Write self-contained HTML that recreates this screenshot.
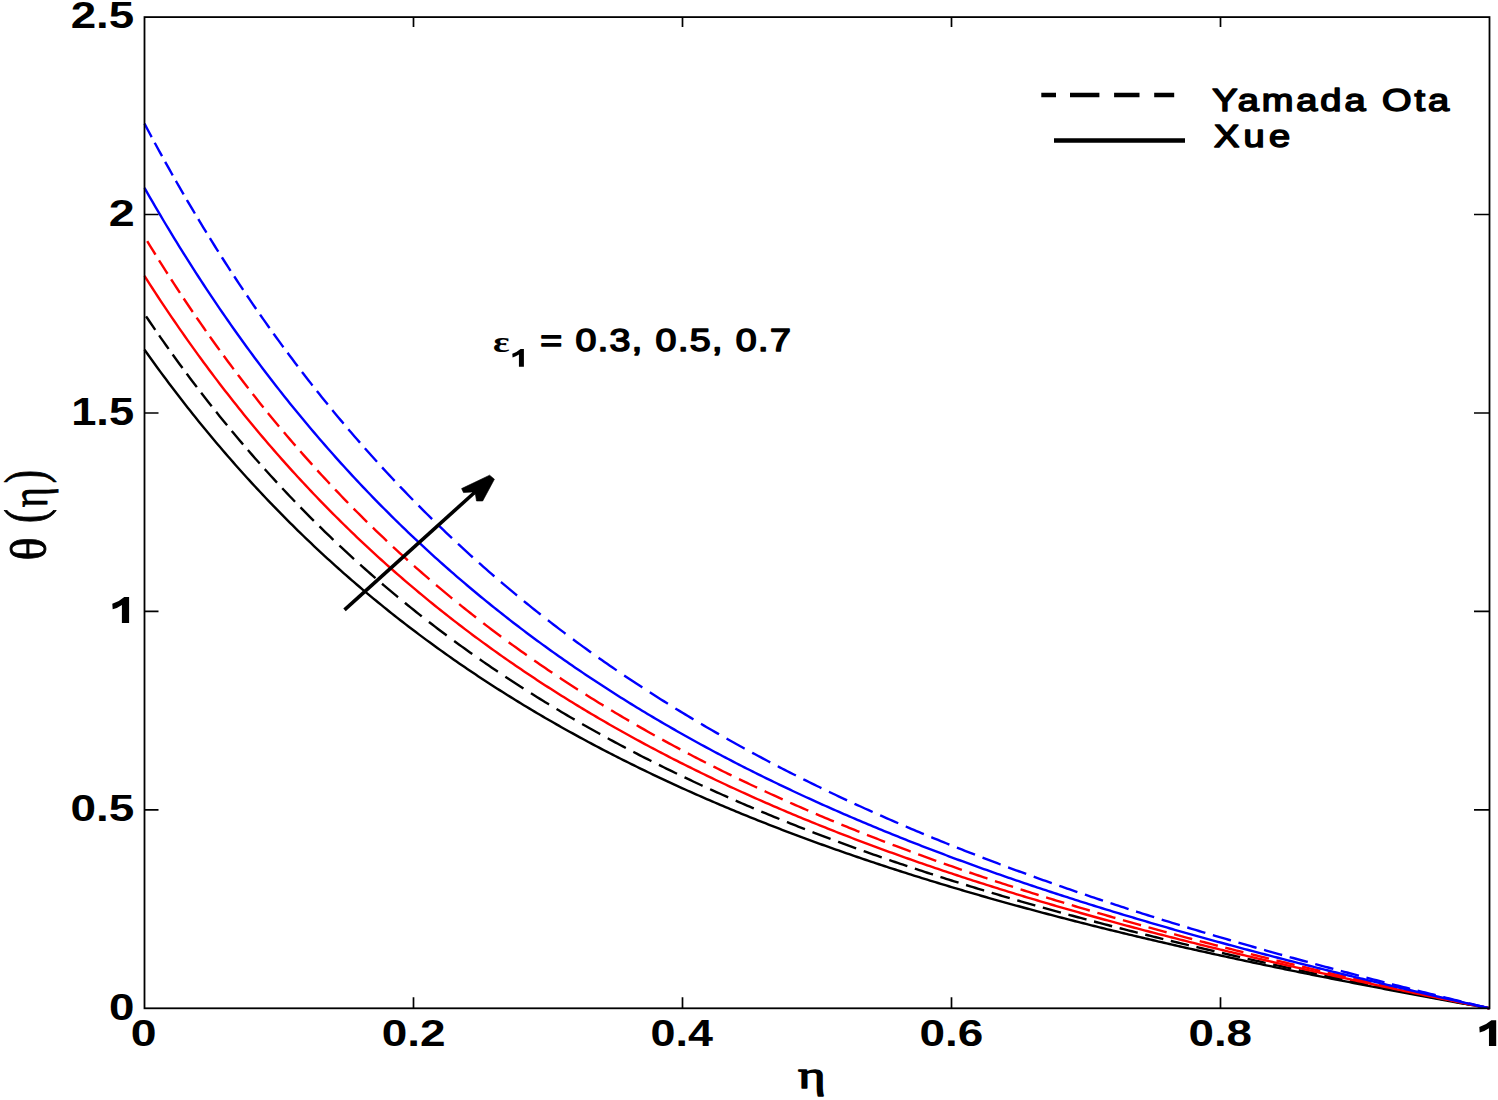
<!DOCTYPE html>
<html><head><meta charset="utf-8"><style>
html,body{margin:0;padding:0;background:#fff;overflow:hidden;}
svg{display:block;}
</style></head><body>
<svg width="1498" height="1100" viewBox="0 0 1498 1100">
<rect width="1498" height="1100" fill="#fff"/>
<g fill="none" stroke-width="2.4" stroke-linejoin="round">
<path d="M144.5,349.74 147.19,353.53 149.88,357.29 152.57,361.03 155.26,364.74 157.95,368.43 160.64,372.09 163.33,375.73 166.02,379.34 168.71,382.93 171.4,386.5 174.09,390.04 176.78,393.56 179.47,397.06 182.16,400.53 184.85,403.98 187.54,407.41 190.23,410.81 192.92,414.2 195.61,417.56 198.3,420.89 200.99,424.21 203.68,427.51 206.37,430.78 209.06,434.03 211.75,437.27 214.44,440.48 217.13,443.67 219.82,446.84 222.51,449.98 225.2,453.11 227.89,456.22 230.58,459.31 233.27,462.38 235.96,465.43 238.65,468.46 241.34,471.47 244.03,474.46 246.72,477.44 249.41,480.39 252.1,483.33 254.79,486.24 257.48,489.14 260.17,492.02 262.86,494.89 265.55,497.73 268.24,500.56 270.93,503.37 273.62,506.16 276.31,508.93 279,511.69 281.69,514.43 284.38,517.15 287.07,519.86 289.76,522.55 292.45,525.22 295.14,527.88 297.83,530.52 300.52,533.14 303.21,535.75 305.9,538.34 308.59,540.92 311.28,543.48 313.97,546.02 316.66,548.55 319.35,551.07 322.04,553.57 324.73,556.05 327.42,558.52 330.11,560.98 332.8,563.41 335.49,565.84 338.18,568.25 340.87,570.65 343.56,573.03 346.25,575.4 348.94,577.75 351.63,580.09 354.32,582.42 357.01,584.73 359.7,587.03 362.39,589.31 365.08,591.58 367.77,593.84 370.46,596.09 373.15,598.32 375.84,600.54 378.53,602.75 381.22,604.94 383.91,607.12 386.6,609.29 389.29,611.44 391.98,613.59 394.67,615.72 397.36,617.84 400.05,619.94 402.74,622.04 405.43,624.12 408.12,626.19 410.81,628.25 413.5,630.3 416.19,632.33 418.88,634.36 421.57,636.37 424.26,638.37 426.95,640.36 429.64,642.34 432.33,644.3 435.02,646.26 437.71,648.21 440.4,650.14 443.09,652.07 445.78,653.98 448.47,655.88 451.16,657.77 453.85,659.66 456.54,661.53 459.23,663.39 461.92,665.24 464.61,667.08 467.3,668.91 469.99,670.73 472.68,672.54 475.37,674.34 478.06,676.13 480.75,677.91 483.44,679.69 486.13,681.45 488.82,683.2 491.51,684.94 494.2,686.68 496.89,688.4 499.58,690.12 502.27,691.82 504.96,693.52 507.65,695.21 510.34,696.89 513.03,698.56 515.72,700.22 518.41,701.87 521.1,703.51 523.79,705.15 526.48,706.78 529.17,708.39 531.86,710 534.55,711.6 537.24,713.2 539.93,714.78 542.62,716.36 545.31,717.93 548,719.49 550.69,721.04 553.38,722.58 556.07,724.12 558.76,725.65 561.45,727.17 564.14,728.68 566.83,730.18 569.52,731.68 572.21,733.17 574.9,734.65 577.59,736.13 580.28,737.59 582.97,739.05 585.66,740.51 588.35,741.95 591.04,743.39 593.73,744.82 596.42,746.24 599.11,747.66 601.8,749.07 604.49,750.47 607.18,751.87 609.87,753.25 612.56,754.64 615.25,756.01 617.94,757.38 620.63,758.74 623.32,760.1 626.01,761.44 628.7,762.79 631.39,764.12 634.08,765.45 636.77,766.77 639.46,768.09 642.15,769.4 644.84,770.7 647.53,772 650.22,773.29 652.91,774.57 655.6,775.85 658.29,777.13 660.98,778.39 663.67,779.65 666.36,780.91 669.05,782.16 671.74,783.4 674.43,784.64 677.12,785.87 679.81,787.09 682.5,788.31 685.19,789.53 687.88,790.73 690.57,791.94 693.26,793.13 695.95,794.33 698.64,795.51 701.33,796.69 704.02,797.87 706.71,799.04 709.4,800.2 712.09,801.36 714.78,802.52 717.47,803.66 720.16,804.81 722.85,805.95 725.54,807.08 728.23,808.21 730.92,809.33 733.61,810.45 736.3,811.56 738.99,812.67 741.68,813.78 744.37,814.87 747.06,815.97 749.75,817.06 752.44,818.14 755.13,819.22 757.82,820.29 760.51,821.36 763.2,822.43 765.89,823.49 768.58,824.55 771.27,825.6 773.96,826.64 776.65,827.69 779.34,828.72 782.03,829.76 784.72,830.79 787.41,831.81 790.1,832.83 792.79,833.85 795.48,834.86 798.17,835.87 800.86,836.87 803.55,837.87 806.24,838.86 808.93,839.85 811.62,840.84 814.31,841.82 817,842.8 819.69,843.78 822.38,844.75 825.07,845.71 827.76,846.67 830.45,847.63 833.14,848.59 835.83,849.54 838.52,850.48 841.21,851.43 843.9,852.37 846.59,853.3 849.28,854.23 851.97,855.16 854.66,856.08 857.35,857 860.04,857.92 862.73,858.83 865.42,859.74 868.11,860.65 870.8,861.55 873.49,862.45 876.18,863.34 878.87,864.24 881.56,865.12 884.25,866.01 886.94,866.89 889.63,867.77 892.32,868.64 895.01,869.51 897.7,870.38 900.39,871.24 903.08,872.1 905.77,872.96 908.46,873.82 911.15,874.67 913.84,875.52 916.53,876.36 919.22,877.2 921.91,878.04 924.6,878.88 927.29,879.71 929.98,880.54 932.67,881.36 935.36,882.19 938.05,883.01 940.74,883.82 943.43,884.64 946.12,885.45 948.81,886.26 951.5,887.06 954.19,887.86 956.88,888.66 959.57,889.46 962.26,890.25 964.95,891.04 967.64,891.83 970.33,892.61 973.02,893.4 975.71,894.18 978.4,894.95 981.09,895.73 983.78,896.5 986.47,897.27 989.16,898.03 991.85,898.79 994.54,899.55 997.23,900.31 999.92,901.07 1002.61,901.82 1005.3,902.57 1007.99,903.32 1010.68,904.06 1013.37,904.81 1016.06,905.54 1018.75,906.28 1021.44,907.02 1024.13,907.75 1026.82,908.48 1029.51,909.21 1032.2,909.93 1034.89,910.65 1037.58,911.37 1040.27,912.09 1042.96,912.81 1045.65,913.52 1048.34,914.23 1051.03,914.94 1053.72,915.65 1056.41,916.35 1059.1,917.05 1061.79,917.75 1064.48,918.45 1067.17,919.14 1069.86,919.84 1072.55,920.53 1075.24,921.22 1077.93,921.9 1080.62,922.59 1083.31,923.27 1086,923.95 1088.69,924.63 1091.38,925.3 1094.07,925.97 1096.76,926.65 1099.45,927.31 1102.14,927.98 1104.83,928.65 1107.52,929.31 1110.21,929.97 1112.9,930.63 1115.59,931.29 1118.28,931.94 1120.97,932.6 1123.66,933.25 1126.35,933.9 1129.04,934.55 1131.73,935.19 1134.42,935.83 1137.11,936.48 1139.8,937.12 1142.49,937.75 1145.18,938.39 1147.87,939.03 1150.56,939.66 1153.25,940.29 1155.94,940.92 1158.63,941.55 1161.32,942.17 1164.01,942.79 1166.7,943.42 1169.39,944.04 1172.08,944.66 1174.77,945.27 1177.46,945.89 1180.15,946.5 1182.84,947.11 1185.53,947.72 1188.22,948.33 1190.91,948.94 1193.6,949.54 1196.29,950.15 1198.98,950.75 1201.67,951.35 1204.36,951.95 1207.05,952.54 1209.74,953.14 1212.43,953.73 1215.12,954.33 1217.81,954.92 1220.5,955.51 1223.19,956.1 1225.88,956.68 1228.57,957.27 1231.26,957.85 1233.95,958.43 1236.64,959.01 1239.33,959.59 1242.02,960.17 1244.71,960.74 1247.4,961.32 1250.09,961.89 1252.78,962.46 1255.47,963.03 1258.16,963.6 1260.85,964.17 1263.54,964.74 1266.23,965.3 1268.92,965.87 1271.61,966.43 1274.3,966.99 1276.99,967.55 1279.68,968.11 1282.37,968.66 1285.06,969.22 1287.75,969.77 1290.44,970.33 1293.13,970.88 1295.82,971.43 1298.51,971.98 1301.2,972.53 1303.89,973.07 1306.58,973.62 1309.27,974.16 1311.96,974.71 1314.65,975.25 1317.34,975.79 1320.03,976.33 1322.72,976.87 1325.41,977.41 1328.1,977.94 1330.79,978.48 1333.48,979.01 1336.17,979.54 1338.86,980.08 1341.55,980.61 1344.24,981.14 1346.93,981.66 1349.62,982.19 1352.31,982.72 1355,983.24 1357.69,983.77 1360.38,984.29 1363.07,984.81 1365.76,985.33 1368.45,985.85 1371.14,986.37 1373.83,986.89 1376.52,987.41 1379.21,987.92 1381.9,988.44 1384.59,988.95 1387.28,989.46 1389.97,989.97 1392.66,990.49 1395.35,991 1398.04,991.5 1400.73,992.01 1403.42,992.52 1406.11,993.03 1408.8,993.53 1411.49,994.04 1414.18,994.54 1416.87,995.04 1419.56,995.54 1422.25,996.04 1424.94,996.54 1427.63,997.04 1430.32,997.54 1433.01,998.04 1435.7,998.54 1438.39,999.03 1441.08,999.53 1443.77,1000.02 1446.46,1000.51 1449.15,1001.01 1451.84,1001.5 1454.53,1001.99 1457.22,1002.48 1459.91,1002.97 1462.6,1003.46 1465.29,1003.94 1467.98,1004.43 1470.67,1004.92 1473.36,1005.4 1476.05,1005.89 1478.74,1006.37 1481.43,1006.85 1484.12,1007.34 1486.81,1007.82 1489.5,1008.3" stroke="#000"/>
<path d="M146.05,316.33 147.19,318.03 149.88,321.99 152.57,325.93 155.25,329.83M159.13,335.43 160.64,337.6 163.33,341.43 166.02,345.24 168.64,348.93M172.66,354.53 174.09,356.52 176.78,360.23 179.47,363.92 182.16,367.58 182.5,368.03M186.65,373.63 187.54,374.83 190.23,378.42 192.92,381.98 195.61,385.53 196.84,387.13M201.14,392.73 203.68,396.02 206.37,399.47 209.06,402.9 211.69,406.23M216.15,411.83 217.13,413.05 219.82,416.39 222.51,419.71 225.2,423.01 227.1,425.33M231.73,430.93 233.27,432.78 235.96,436 238.65,439.19 241.34,442.37 243.1,444.43M247.91,450.03 249.41,451.77 252.1,454.86 254.79,457.94 257.48,461 259.73,463.53M264.73,469.13 265.55,470.05 268.24,473.03 270.93,475.99 273.62,478.93 276.31,481.86 277.03,482.63M282.23,488.23 284.38,490.52 287.07,493.38 289.76,496.21 292.45,499.03 295.05,501.73M300.47,507.33 300.52,507.38 303.21,510.13 305.9,512.86 308.59,515.58 311.28,518.28 313.84,520.83M319.51,526.43 322.04,528.91 324.73,531.53 327.42,534.14 330.11,536.72 332.8,539.29 333.47,539.93M339.39,545.53 340.87,546.92 343.56,549.43 346.25,551.93 348.94,554.41 351.63,556.87 354,559.03M360.2,564.63 362.39,566.6 365.08,568.99 367.77,571.37 370.46,573.74 373.15,576.09 375.49,578.13M381.99,583.73 383.91,585.37 386.6,587.65 389.29,589.93 391.98,592.19 394.67,594.43 397.36,596.67 398.04,597.23M404.87,602.83 405.43,603.29 408.12,605.47 410.81,607.64 413.5,609.8 416.19,611.95 418.88,614.08 421.57,616.2 421.73,616.33M428.91,621.93 429.64,622.5 432.33,624.57 435.02,626.63 437.71,628.68 440.4,630.72 443.09,632.75 445.78,634.77 446.67,635.43M454.17,640.99 456.54,642.73 459.23,644.69 461.92,646.64 464.61,648.58 467.3,650.51 469.99,652.43 472.26,654.04M479.77,659.31 480.75,660 483.44,661.87 486.13,663.73 488.82,665.57 491.51,667.41 494.2,669.24 496.89,671.06 497.86,671.71M505.36,676.72 507.65,678.23 510.34,680 513.03,681.76 515.72,683.51 518.41,685.26 521.1,686.99 523.45,688.5M530.95,693.26 531.86,693.83 534.55,695.52 537.24,697.2 539.93,698.87 542.62,700.53 545.31,702.18 548,703.83 549.04,704.46M556.55,709 558.76,710.32 561.45,711.92 564.14,713.52 566.83,715.1 569.52,716.68 572.21,718.25 574.64,719.66M582.14,723.98 582.97,724.46 585.66,725.99 588.35,727.51 591.04,729.03 593.73,730.53 596.42,732.03 599.11,733.53 600.23,734.15M607.74,738.27 609.87,739.43 612.56,740.88 615.25,742.33 617.94,743.78 620.63,745.21 623.32,746.64 625.83,747.96M633.33,751.89 634.08,752.28 636.77,753.68 639.46,755.07 642.15,756.45 644.84,757.82 647.53,759.19 650.22,760.55 651.42,761.15M658.92,764.91 660.98,765.93 663.67,767.26 666.36,768.58 669.05,769.89 671.74,771.2 674.43,772.51 677.01,773.76M684.52,777.34 685.19,777.66 687.88,778.94 690.57,780.21 693.26,781.47 695.95,782.72 698.64,783.97 701.33,785.22 702.61,785.81M710.11,789.24 712.09,790.14 714.78,791.36 717.47,792.57 720.16,793.78 722.85,794.98 725.54,796.17 728.2,797.35M735.71,800.64 736.3,800.9 738.99,802.07 741.68,803.23 744.37,804.39 747.06,805.54 749.75,806.69 752.44,807.83 753.8,808.4M761.3,811.56 763.2,812.35 765.89,813.47 768.58,814.58 771.27,815.69 773.96,816.8 776.65,817.89 779.34,818.99 779.39,819.01M786.89,822.04 787.41,822.24 790.1,823.32 792.79,824.39 795.48,825.46 798.17,826.52 800.86,827.58 803.55,828.63 804.98,829.19M812.49,832.1 814.31,832.8 817,833.83 819.69,834.86 822.38,835.88 825.07,836.9 827.76,837.91 830.45,838.92 830.58,838.97M838.08,841.77 838.52,841.93 841.21,842.92 843.9,843.91 846.59,844.9 849.28,845.88 851.97,846.86 854.66,847.83 856.17,848.38M863.68,851.07 865.42,851.69 868.11,852.64 870.8,853.59 873.49,854.54 876.18,855.48 878.87,856.42 881.56,857.36 881.77,857.43M889.27,860.02 889.63,860.15 892.32,861.07 895.01,861.99 897.7,862.9 900.39,863.81 903.08,864.72 905.77,865.62 907.36,866.16M914.86,868.66 916.53,869.21 919.22,870.09 921.91,870.98 924.6,871.86 927.29,872.74 929.98,873.61 932.67,874.48 932.95,874.57M940.46,876.98 940.74,877.07 943.43,877.93 946.12,878.79 948.81,879.64 951.5,880.49 954.19,881.33 956.88,882.17 958.55,882.7M966.05,885.02 967.64,885.51 970.33,886.34 973.02,887.17 975.71,887.99 978.4,888.81 981.09,889.62 983.78,890.44 984.14,890.54M991.65,892.8 991.85,892.86 994.54,893.66 997.23,894.46 999.92,895.25 1002.61,896.05 1005.3,896.84 1007.99,897.63 1009.74,898.14M1017.24,900.31 1018.75,900.75 1021.44,901.53 1024.13,902.3 1026.82,903.07 1029.51,903.83 1032.2,904.6 1034.89,905.36 1035.33,905.48M1042.83,907.6 1042.96,907.63 1045.65,908.38 1048.34,909.13 1051.03,909.88 1053.72,910.62 1056.41,911.37 1059.1,912.11 1060.92,912.61M1068.43,914.65 1069.86,915.04 1072.55,915.77 1075.24,916.49 1077.93,917.22 1080.62,917.94 1083.31,918.66 1086,919.37 1086.52,919.51M1094.02,921.5 1094.07,921.51 1096.76,922.22 1099.45,922.92 1102.14,923.63 1104.83,924.33 1107.52,925.03 1110.21,925.73 1112.11,926.22M1119.62,928.15 1120.97,928.49 1123.66,929.18 1126.35,929.86 1129.04,930.55 1131.73,931.23 1134.42,931.91 1137.11,932.58 1137.71,932.73M1145.21,934.61 1147.87,935.27 1150.56,935.94 1153.25,936.6 1155.94,937.27 1158.63,937.93 1161.32,938.59 1163.3,939.07M1170.8,940.9 1172.08,941.21 1174.77,941.86 1177.46,942.5 1180.15,943.15 1182.84,943.8 1185.53,944.44 1188.22,945.08 1188.89,945.24M1196.4,947.02 1198.98,947.63 1201.67,948.26 1204.36,948.89 1207.05,949.52 1209.74,950.15 1212.43,950.78 1214.49,951.25M1221.99,952.99 1223.19,953.26 1225.88,953.88 1228.57,954.5 1231.26,955.11 1233.95,955.73 1236.64,956.34 1239.33,956.95 1240.08,957.12M1247.59,958.81 1250.09,959.38 1252.78,959.98 1255.47,960.58 1258.16,961.18 1260.85,961.78 1263.54,962.38 1265.68,962.85M1273.18,964.5 1274.3,964.75 1276.99,965.34 1279.68,965.93 1282.37,966.52 1285.06,967.1 1287.75,967.69 1290.44,968.27 1291.27,968.45M1298.77,970.07 1301.2,970.59 1303.89,971.16 1306.58,971.74 1309.27,972.31 1311.96,972.89 1314.65,973.46 1316.86,973.93M1324.37,975.51 1325.41,975.73 1328.1,976.3 1330.79,976.86 1333.48,977.42 1336.17,977.99 1338.86,978.55 1341.55,979.1 1342.46,979.29M1349.96,980.85 1352.31,981.33 1355,981.88 1357.69,982.44 1360.38,982.99 1363.07,983.54 1365.76,984.09 1368.05,984.55M1375.56,986.08 1376.52,986.27 1379.21,986.82 1381.9,987.36 1384.59,987.9 1387.28,988.44 1389.97,988.98 1392.66,989.52 1393.65,989.72M1401.15,991.21 1403.42,991.66 1406.11,992.2 1408.8,992.73 1411.49,993.26 1414.18,993.79 1416.87,994.32 1419.24,994.79M1426.74,996.26 1427.63,996.43 1430.32,996.96 1433.01,997.48 1435.7,998.01 1438.39,998.53 1441.08,999.05 1443.77,999.57 1444.83,999.78M1452.34,1001.22 1454.53,1001.65 1457.22,1002.16 1459.91,1002.68 1462.6,1003.19 1465.29,1003.71 1467.98,1004.22 1470.43,1004.69M1477.93,1006.11 1478.74,1006.27 1481.43,1006.78 1484.12,1007.28 1486.81,1007.79 1489.5,1008.3" stroke="#000"/>
<path d="M144.5,275.95 147.19,280.16 149.88,284.34 152.57,288.5 155.26,292.63 157.95,296.73 160.64,300.8 163.33,304.85 166.02,308.87 168.71,312.86 171.4,316.83 174.09,320.77 176.78,324.68 179.47,328.57 182.16,332.43 184.85,336.27 187.54,340.08 190.23,343.86 192.92,347.63 195.61,351.36 198.3,355.08 200.99,358.77 203.68,362.43 206.37,366.07 209.06,369.69 211.75,373.28 214.44,376.85 217.13,380.4 219.82,383.92 222.51,387.43 225.2,390.91 227.89,394.36 230.58,397.8 233.27,401.21 235.96,404.6 238.65,407.97 241.34,411.32 244.03,414.65 246.72,417.95 249.41,421.24 252.1,424.5 254.79,427.75 257.48,430.97 260.17,434.18 262.86,437.36 265.55,440.52 268.24,443.66 270.93,446.79 273.62,449.89 276.31,452.98 279,456.04 281.69,459.09 284.38,462.12 287.07,465.13 289.76,468.12 292.45,471.09 295.14,474.05 297.83,476.98 300.52,479.9 303.21,482.8 305.9,485.68 308.59,488.55 311.28,491.4 313.97,494.23 316.66,497.04 319.35,499.84 322.04,502.62 324.73,505.38 327.42,508.12 330.11,510.85 332.8,513.57 335.49,516.26 338.18,518.94 340.87,521.61 343.56,524.26 346.25,526.89 348.94,529.51 351.63,532.11 354.32,534.7 357.01,537.27 359.7,539.82 362.39,542.37 365.08,544.89 367.77,547.4 370.46,549.9 373.15,552.38 375.84,554.85 378.53,557.3 381.22,559.74 383.91,562.17 386.6,564.58 389.29,566.98 391.98,569.36 394.67,571.73 397.36,574.09 400.05,576.43 402.74,578.76 405.43,581.07 408.12,583.38 410.81,585.66 413.5,587.94 416.19,590.2 418.88,592.46 421.57,594.69 424.26,596.92 426.95,599.13 429.64,601.33 432.33,603.52 435.02,605.7 437.71,607.86 440.4,610.01 443.09,612.15 445.78,614.28 448.47,616.39 451.16,618.5 453.85,620.59 456.54,622.67 459.23,624.74 461.92,626.8 464.61,628.85 467.3,630.88 469.99,632.91 472.68,634.92 475.37,636.92 478.06,638.91 480.75,640.89 483.44,642.86 486.13,644.82 488.82,646.77 491.51,648.71 494.2,650.64 496.89,652.56 499.58,654.46 502.27,656.36 504.96,658.25 507.65,660.13 510.34,661.99 513.03,663.85 515.72,665.7 518.41,667.53 521.1,669.36 523.79,671.18 526.48,672.99 529.17,674.79 531.86,676.58 534.55,678.36 537.24,680.13 539.93,681.89 542.62,683.65 545.31,685.39 548,687.12 550.69,688.85 553.38,690.57 556.07,692.27 558.76,693.97 561.45,695.66 564.14,697.35 566.83,699.02 569.52,700.69 572.21,702.34 574.9,703.99 577.59,705.63 580.28,707.26 582.97,708.88 585.66,710.5 588.35,712.11 591.04,713.71 593.73,715.3 596.42,716.88 599.11,718.45 601.8,720.02 604.49,721.58 607.18,723.13 609.87,724.68 612.56,726.21 615.25,727.74 617.94,729.26 620.63,730.78 623.32,732.29 626.01,733.78 628.7,735.28 631.39,736.76 634.08,738.24 636.77,739.71 639.46,741.17 642.15,742.63 644.84,744.08 647.53,745.52 650.22,746.96 652.91,748.39 655.6,749.81 658.29,751.22 660.98,752.63 663.67,754.03 666.36,755.43 669.05,756.82 671.74,758.2 674.43,759.57 677.12,760.94 679.81,762.31 682.5,763.66 685.19,765.01 687.88,766.36 690.57,767.69 693.26,769.02 695.95,770.35 698.64,771.67 701.33,772.98 704.02,774.29 706.71,775.59 709.4,776.89 712.09,778.17 714.78,779.46 717.47,780.74 720.16,782.01 722.85,783.27 725.54,784.53 728.23,785.79 730.92,787.04 733.61,788.28 736.3,789.52 738.99,790.75 741.68,791.98 744.37,793.2 747.06,794.42 749.75,795.63 752.44,796.83 755.13,798.03 757.82,799.23 760.51,800.42 763.2,801.6 765.89,802.78 768.58,803.96 771.27,805.13 773.96,806.29 776.65,807.45 779.34,808.6 782.03,809.75 784.72,810.9 787.41,812.04 790.1,813.17 792.79,814.3 795.48,815.43 798.17,816.55 800.86,817.66 803.55,818.77 806.24,819.88 808.93,820.98 811.62,822.08 814.31,823.17 817,824.26 819.69,825.34 822.38,826.42 825.07,827.49 827.76,828.56 830.45,829.63 833.14,830.69 835.83,831.75 838.52,832.8 841.21,833.85 843.9,834.89 846.59,835.93 849.28,836.97 851.97,838 854.66,839.03 857.35,840.05 860.04,841.07 862.73,842.09 865.42,843.1 868.11,844.1 870.8,845.11 873.49,846.11 876.18,847.1 878.87,848.09 881.56,849.08 884.25,850.06 886.94,851.04 889.63,852.02 892.32,852.99 895.01,853.96 897.7,854.93 900.39,855.89 903.08,856.84 905.77,857.8 908.46,858.75 911.15,859.69 913.84,860.64 916.53,861.58 919.22,862.51 921.91,863.45 924.6,864.37 927.29,865.3 929.98,866.22 932.67,867.14 935.36,868.05 938.05,868.97 940.74,869.87 943.43,870.78 946.12,871.68 948.81,872.58 951.5,873.48 954.19,874.37 956.88,875.26 959.57,876.14 962.26,877.02 964.95,877.9 967.64,878.78 970.33,879.65 973.02,880.52 975.71,881.39 978.4,882.25 981.09,883.11 983.78,883.97 986.47,884.82 989.16,885.68 991.85,886.52 994.54,887.37 997.23,888.21 999.92,889.05 1002.61,889.89 1005.3,890.72 1007.99,891.55 1010.68,892.38 1013.37,893.21 1016.06,894.03 1018.75,894.85 1021.44,895.67 1024.13,896.48 1026.82,897.29 1029.51,898.1 1032.2,898.91 1034.89,899.71 1037.58,900.51 1040.27,901.31 1042.96,902.11 1045.65,902.9 1048.34,903.69 1051.03,904.48 1053.72,905.27 1056.41,906.05 1059.1,906.83 1061.79,907.61 1064.48,908.38 1067.17,909.15 1069.86,909.92 1072.55,910.69 1075.24,911.46 1077.93,912.22 1080.62,912.98 1083.31,913.74 1086,914.5 1088.69,915.25 1091.38,916 1094.07,916.75 1096.76,917.5 1099.45,918.24 1102.14,918.98 1104.83,919.72 1107.52,920.46 1110.21,921.2 1112.9,921.93 1115.59,922.66 1118.28,923.39 1120.97,924.11 1123.66,924.84 1126.35,925.56 1129.04,926.28 1131.73,927 1134.42,927.72 1137.11,928.43 1139.8,929.14 1142.49,929.85 1145.18,930.56 1147.87,931.26 1150.56,931.97 1153.25,932.67 1155.94,933.37 1158.63,934.07 1161.32,934.76 1164.01,935.46 1166.7,936.15 1169.39,936.84 1172.08,937.52 1174.77,938.21 1177.46,938.89 1180.15,939.58 1182.84,940.26 1185.53,940.94 1188.22,941.61 1190.91,942.29 1193.6,942.96 1196.29,943.63 1198.98,944.3 1201.67,944.97 1204.36,945.63 1207.05,946.3 1209.74,946.96 1212.43,947.62 1215.12,948.28 1217.81,948.94 1220.5,949.59 1223.19,950.25 1225.88,950.9 1228.57,951.55 1231.26,952.2 1233.95,952.84 1236.64,953.49 1239.33,954.13 1242.02,954.78 1244.71,955.42 1247.4,956.06 1250.09,956.69 1252.78,957.33 1255.47,957.96 1258.16,958.6 1260.85,959.23 1263.54,959.86 1266.23,960.49 1268.92,961.11 1271.61,961.74 1274.3,962.36 1276.99,962.98 1279.68,963.6 1282.37,964.22 1285.06,964.84 1287.75,965.46 1290.44,966.07 1293.13,966.69 1295.82,967.3 1298.51,967.91 1301.2,968.52 1303.89,969.13 1306.58,969.73 1309.27,970.34 1311.96,970.94 1314.65,971.55 1317.34,972.15 1320.03,972.75 1322.72,973.35 1325.41,973.94 1328.1,974.54 1330.79,975.14 1333.48,975.73 1336.17,976.32 1338.86,976.91 1341.55,977.5 1344.24,978.09 1346.93,978.68 1349.62,979.27 1352.31,979.85 1355,980.43 1357.69,981.02 1360.38,981.6 1363.07,982.18 1365.76,982.76 1368.45,983.34 1371.14,983.91 1373.83,984.49 1376.52,985.06 1379.21,985.64 1381.9,986.21 1384.59,986.78 1387.28,987.35 1389.97,987.92 1392.66,988.49 1395.35,989.06 1398.04,989.62 1400.73,990.19 1403.42,990.75 1406.11,991.31 1408.8,991.88 1411.49,992.44 1414.18,993 1416.87,993.56 1419.56,994.11 1422.25,994.67 1424.94,995.23 1427.63,995.78 1430.32,996.34 1433.01,996.89 1435.7,997.44 1438.39,997.99 1441.08,998.54 1443.77,999.09 1446.46,999.64 1449.15,1000.19 1451.84,1000.74 1454.53,1001.28 1457.22,1001.83 1459.91,1002.37 1462.6,1002.91 1465.29,1003.46 1467.98,1004 1470.67,1004.54 1473.36,1005.08 1476.05,1005.62 1478.74,1006.16 1481.43,1006.69 1484.12,1007.23 1486.81,1007.76 1489.5,1008.3" stroke="#f00"/>
<path d="M147.23,241.17 149.88,245.52 152.57,249.9 155.26,254.25 155.52,254.67M159.02,260.27 160.64,262.86 163.33,267.12 166.02,271.36 167.56,273.77M171.16,279.37 171.4,279.74 174.09,283.89 176.78,288.02 179.47,292.11 179.97,292.87M183.68,298.47 184.85,300.23 187.54,304.24 190.23,308.23 192.77,311.97M196.6,317.57 198.3,320.04 200.99,323.93 203.68,327.79 205.98,331.07M209.93,336.67 211.75,339.23 214.44,342.99 217.13,346.73 219.62,350.17M223.71,355.77 225.2,357.8 227.89,361.44 230.58,365.06 233.27,368.65 233.73,369.27M237.96,374.87 238.65,375.78 241.34,379.31 244.03,382.81 246.72,386.29 248.33,388.37M252.71,393.97 254.79,396.61 257.48,400.01 260.17,403.38 262.86,406.74 263.45,407.47M267.99,413.07 268.24,413.38 270.93,416.68 273.62,419.95 276.31,423.2 279,426.43 279.12,426.57M283.83,432.17 284.38,432.83 287.07,436 289.76,439.15 292.45,442.28 295.14,445.39 295.38,445.67M300.26,451.27 300.52,451.56 303.21,454.62 305.9,457.66 308.59,460.67 311.28,463.67 312.27,464.77M317.34,470.37 319.35,472.57 322.04,475.5 324.73,478.41 327.42,481.3 329.82,483.87M335.11,489.47 335.49,489.88 338.18,492.7 340.87,495.51 343.56,498.3 346.25,501.07 348.1,502.97M353.6,508.57 354.32,509.3 357.01,512.01 359.7,514.7 362.39,517.38 365.08,520.04 367.14,522.07M372.88,527.67 373.15,527.93 375.84,530.53 378.53,533.12 381.22,535.69 383.91,538.24 386.6,540.78 387.01,541.17M393,546.77 394.67,548.32 397.36,550.8 400.05,553.27 402.74,555.72 405.43,558.16 407.77,560.27M414.03,565.87 416.19,567.78 418.88,570.15 421.57,572.51 424.26,574.86 426.95,577.19 429.48,579.37M436.04,584.97 437.71,586.38 440.4,588.65 443.09,590.9 445.78,593.15 448.47,595.38 451.16,597.59 452.23,598.47M459.11,604.07 459.23,604.17 461.92,606.34 464.61,608.5 467.3,610.64 469.99,612.77 472.68,614.9 475.37,617.01 476.09,617.57M483.32,623.17 483.44,623.27 486.13,625.33 488.82,627.38 491.51,629.43 494.2,631.46 496.89,633.48 499.58,635.49 501.16,636.67M508.67,642.2 510.34,643.42 513.03,645.38 515.72,647.32 518.41,649.26 521.1,651.19 523.79,653.1 526.48,655.01 526.76,655.2M534.26,660.46 534.55,660.66 537.24,662.53 539.93,664.39 542.62,666.23 545.31,668.07 548,669.9 550.69,671.72 552.35,672.84M559.86,677.84 561.45,678.9 564.14,680.67 566.83,682.43 569.52,684.19 572.21,685.93 574.9,687.67 577.59,689.4 577.95,689.63M585.45,694.4 585.66,694.53 588.35,696.22 591.04,697.91 593.73,699.58 596.42,701.25 599.11,702.91 601.8,704.56 603.54,705.62M611.04,710.17 612.56,711.09 615.25,712.7 617.94,714.3 620.63,715.9 623.32,717.48 626.01,719.06 628.7,720.63 629.13,720.89M636.64,725.23 636.77,725.31 639.46,726.85 642.15,728.38 644.84,729.91 647.53,731.43 650.22,732.94 652.91,734.45 654.73,735.46M662.23,739.61 663.67,740.4 666.36,741.87 669.05,743.33 671.74,744.79 674.43,746.23 677.12,747.68 679.81,749.11 680.32,749.39M687.83,753.35 687.88,753.38 690.57,754.79 693.26,756.19 695.95,757.59 698.64,758.98 701.33,760.36 704.02,761.74 705.92,762.71M713.42,766.5 714.78,767.19 717.47,768.53 720.16,769.87 722.85,771.21 725.54,772.53 728.23,773.86 730.92,775.17 731.51,775.46M739.01,779.1 741.68,780.38 744.37,781.67 747.06,782.95 749.75,784.22 752.44,785.49 755.13,786.76 757.1,787.68M764.61,791.17 765.89,791.76 768.58,793 771.27,794.23 773.96,795.46 776.65,796.68 779.34,797.89 782.03,799.1 782.7,799.4M790.2,802.75 792.79,803.9 795.48,805.08 798.17,806.26 800.86,807.44 803.55,808.61 806.24,809.77 808.29,810.66M815.8,813.87 817,814.39 819.69,815.53 822.38,816.67 825.07,817.8 827.76,818.93 830.45,820.05 833.14,821.17 833.89,821.48M841.39,824.57 843.9,825.59 846.59,826.69 849.28,827.78 851.97,828.87 854.66,829.95 857.35,831.03 859.48,831.88M866.98,834.85 868.11,835.3 870.8,836.36 873.49,837.41 876.18,838.46 878.87,839.5 881.56,840.54 884.25,841.58 885.07,841.89M892.58,844.76 895.01,845.68 897.7,846.7 900.39,847.71 903.08,848.72 905.77,849.73 908.46,850.73 910.67,851.55M918.17,854.31 919.22,854.69 921.91,855.68 924.6,856.66 927.29,857.63 929.98,858.6 932.67,859.57 935.36,860.53 936.26,860.86M943.77,863.52 946.12,864.35 948.81,865.3 951.5,866.24 954.19,867.18 956.88,868.12 959.57,869.05 961.86,869.84M969.36,872.42 970.33,872.75 973.02,873.67 975.71,874.58 978.4,875.49 981.09,876.4 983.78,877.3 986.47,878.2 987.45,878.53M994.95,881.02 997.23,881.77 999.92,882.66 1002.61,883.54 1005.3,884.42 1007.99,885.29 1010.68,886.17 1013.04,886.93M1020.55,889.34 1021.44,889.63 1024.13,890.49 1026.82,891.34 1029.51,892.19 1032.2,893.04 1034.89,893.89 1037.58,894.73 1038.64,895.06M1046.14,897.4 1048.34,898.08 1051.03,898.91 1053.72,899.74 1056.41,900.56 1059.1,901.39 1061.79,902.21 1064.23,902.95M1071.74,905.21 1072.55,905.46 1075.24,906.26 1077.93,907.07 1080.62,907.87 1083.31,908.67 1086,909.47 1088.69,910.26 1089.83,910.59M1097.33,912.79 1099.45,913.41 1102.14,914.19 1104.83,914.97 1107.52,915.75 1110.21,916.52 1112.9,917.3 1115.42,918.02M1122.92,920.15 1123.66,920.36 1126.35,921.12 1129.04,921.88 1131.73,922.64 1134.42,923.39 1137.11,924.15 1139.8,924.9 1141.01,925.23M1148.52,927.31 1150.56,927.87 1153.25,928.61 1155.94,929.35 1158.63,930.08 1161.32,930.82 1164.01,931.55 1166.61,932.25M1174.11,934.27 1174.77,934.45 1177.46,935.17 1180.15,935.89 1182.84,936.61 1185.53,937.32 1188.22,938.04 1190.91,938.75 1192.2,939.09M1199.71,941.06 1201.67,941.57 1204.36,942.27 1207.05,942.97 1209.74,943.67 1212.43,944.37 1215.12,945.06 1217.8,945.75M1225.3,947.67 1225.88,947.82 1228.57,948.5 1231.26,949.19 1233.95,949.87 1236.64,950.55 1239.33,951.23 1242.02,951.91 1243.39,952.25M1250.89,954.13 1252.78,954.6 1255.47,955.26 1258.16,955.93 1260.85,956.6 1263.54,957.26 1266.23,957.92 1268.92,958.58 1268.98,958.6M1276.49,960.43 1276.99,960.55 1279.68,961.21 1282.37,961.86 1285.06,962.51 1287.75,963.16 1290.44,963.81 1293.13,964.46 1294.58,964.8M1302.08,966.6 1303.89,967.03 1306.58,967.67 1309.27,968.3 1311.96,968.94 1314.65,969.58 1317.34,970.21 1320.03,970.84 1320.17,970.87M1327.68,972.63 1328.1,972.73 1330.79,973.36 1333.48,973.98 1336.17,974.61 1338.86,975.23 1341.55,975.85 1344.24,976.47 1345.77,976.82M1353.27,978.54 1355,978.94 1357.69,979.55 1360.38,980.17 1363.07,980.78 1365.76,981.39 1368.45,982 1371.14,982.61 1371.36,982.66M1378.86,984.34 1379.21,984.42 1381.9,985.03 1384.59,985.63 1387.28,986.23 1389.97,986.83 1392.66,987.43 1395.35,988.02 1396.95,988.38M1404.46,990.04 1406.11,990.4 1408.8,991 1411.49,991.59 1414.18,992.18 1416.87,992.77 1419.56,993.35 1422.25,993.94 1422.55,994.01M1430.05,995.64 1430.32,995.69 1433.01,996.28 1435.7,996.86 1438.39,997.44 1441.08,998.02 1443.77,998.6 1446.46,999.18 1448.14,999.54M1455.65,1001.14 1457.22,1001.48 1459.91,1002.05 1462.6,1002.62 1465.29,1003.2 1467.98,1003.77 1470.67,1004.34 1473.36,1004.91 1473.74,1004.98M1481.24,1006.57 1481.43,1006.61 1484.12,1007.17 1486.81,1007.74 1489.5,1008.3" stroke="#f00"/>
<path d="M144.5,187.87 147.19,192.59 149.88,197.28 152.57,201.94 155.26,206.56 157.95,211.16 160.64,215.72 163.33,220.25 166.02,224.75 168.71,229.23 171.4,233.67 174.09,238.08 176.78,242.47 179.47,246.82 182.16,251.15 184.85,255.45 187.54,259.72 190.23,263.96 192.92,268.17 195.61,272.36 198.3,276.52 200.99,280.65 203.68,284.76 206.37,288.84 209.06,292.89 211.75,296.91 214.44,300.91 217.13,304.89 219.82,308.84 222.51,312.76 225.2,316.66 227.89,320.53 230.58,324.38 233.27,328.2 235.96,332 238.65,335.78 241.34,339.53 244.03,343.26 246.72,346.96 249.41,350.64 252.1,354.3 254.79,357.93 257.48,361.54 260.17,365.13 262.86,368.7 265.55,372.24 268.24,375.76 270.93,379.26 273.62,382.74 276.31,386.2 279,389.63 281.69,393.04 284.38,396.44 287.07,399.81 289.76,403.16 292.45,406.49 295.14,409.8 297.83,413.09 300.52,416.36 303.21,419.6 305.9,422.83 308.59,426.04 311.28,429.23 313.97,432.4 316.66,435.56 319.35,438.69 322.04,441.8 324.73,444.9 327.42,447.97 330.11,451.03 332.8,454.07 335.49,457.09 338.18,460.09 340.87,463.08 343.56,466.05 346.25,469 348.94,471.93 351.63,474.84 354.32,477.74 357.01,480.62 359.7,483.49 362.39,486.33 365.08,489.16 367.77,491.98 370.46,494.77 373.15,497.55 375.84,500.32 378.53,503.07 381.22,505.8 383.91,508.52 386.6,511.22 389.29,513.9 391.98,516.57 394.67,519.23 397.36,521.87 400.05,524.49 402.74,527.1 405.43,529.69 408.12,532.27 410.81,534.84 413.5,537.39 416.19,539.92 418.88,542.45 421.57,544.95 424.26,547.45 426.95,549.92 429.64,552.39 432.33,554.84 435.02,557.28 437.71,559.7 440.4,562.11 443.09,564.51 445.78,566.89 448.47,569.26 451.16,571.62 453.85,573.96 456.54,576.3 459.23,578.61 461.92,580.92 464.61,583.21 467.3,585.49 469.99,587.76 472.68,590.02 475.37,592.26 478.06,594.49 480.75,596.71 483.44,598.92 486.13,601.11 488.82,603.3 491.51,605.47 494.2,607.63 496.89,609.78 499.58,611.91 502.27,614.04 504.96,616.15 507.65,618.25 510.34,620.35 513.03,622.43 515.72,624.5 518.41,626.55 521.1,628.6 523.79,630.64 526.48,632.67 529.17,634.68 531.86,636.69 534.55,638.68 537.24,640.66 539.93,642.64 542.62,644.6 545.31,646.56 548,648.5 550.69,650.43 553.38,652.36 556.07,654.27 558.76,656.17 561.45,658.07 564.14,659.95 566.83,661.83 569.52,663.69 572.21,665.55 574.9,667.39 577.59,669.23 580.28,671.06 582.97,672.88 585.66,674.69 588.35,676.49 591.04,678.28 593.73,680.06 596.42,681.83 599.11,683.6 601.8,685.35 604.49,687.1 607.18,688.84 609.87,690.57 612.56,692.29 615.25,694 617.94,695.71 620.63,697.4 623.32,699.09 626.01,700.77 628.7,702.44 631.39,704.11 634.08,705.76 636.77,707.41 639.46,709.05 642.15,710.68 644.84,712.3 647.53,713.92 650.22,715.53 652.91,717.13 655.6,718.72 658.29,720.31 660.98,721.88 663.67,723.45 666.36,725.02 669.05,726.57 671.74,728.12 674.43,729.66 677.12,731.2 679.81,732.72 682.5,734.24 685.19,735.75 687.88,737.26 690.57,738.76 693.26,740.25 695.95,741.73 698.64,743.21 701.33,744.68 704.02,746.15 706.71,747.6 709.4,749.06 712.09,750.5 714.78,751.94 717.47,753.37 720.16,754.79 722.85,756.21 725.54,757.62 728.23,759.03 730.92,760.43 733.61,761.82 736.3,763.21 738.99,764.59 741.68,765.96 744.37,767.33 747.06,768.7 749.75,770.05 752.44,771.4 755.13,772.75 757.82,774.09 760.51,775.42 763.2,776.75 765.89,778.07 768.58,779.38 771.27,780.69 773.96,782 776.65,783.29 779.34,784.59 782.03,785.88 784.72,787.16 787.41,788.43 790.1,789.7 792.79,790.97 795.48,792.23 798.17,793.49 800.86,794.74 803.55,795.98 806.24,797.22 808.93,798.45 811.62,799.68 814.31,800.91 817,802.12 819.69,803.34 822.38,804.55 825.07,805.75 827.76,806.95 830.45,808.14 833.14,809.33 835.83,810.52 838.52,811.7 841.21,812.87 843.9,814.04 846.59,815.2 849.28,816.36 851.97,817.52 854.66,818.67 857.35,819.82 860.04,820.96 862.73,822.1 865.42,823.23 868.11,824.36 870.8,825.48 873.49,826.6 876.18,827.72 878.87,828.83 881.56,829.93 884.25,831.03 886.94,832.13 889.63,833.23 892.32,834.31 895.01,835.4 897.7,836.48 900.39,837.56 903.08,838.63 905.77,839.7 908.46,840.76 911.15,841.82 913.84,842.88 916.53,843.93 919.22,844.98 921.91,846.02 924.6,847.07 927.29,848.1 929.98,849.13 932.67,850.16 935.36,851.19 938.05,852.21 940.74,853.23 943.43,854.24 946.12,855.25 948.81,856.26 951.5,857.26 954.19,858.26 956.88,859.26 959.57,860.25 962.26,861.24 964.95,862.22 967.64,863.2 970.33,864.18 973.02,865.15 975.71,866.13 978.4,867.09 981.09,868.06 983.78,869.02 986.47,869.98 989.16,870.93 991.85,871.88 994.54,872.83 997.23,873.77 999.92,874.71 1002.61,875.65 1005.3,876.58 1007.99,877.51 1010.68,878.44 1013.37,879.37 1016.06,880.29 1018.75,881.21 1021.44,882.12 1024.13,883.04 1026.82,883.94 1029.51,884.85 1032.2,885.75 1034.89,886.65 1037.58,887.55 1040.27,888.45 1042.96,889.34 1045.65,890.23 1048.34,891.11 1051.03,891.99 1053.72,892.87 1056.41,893.75 1059.1,894.63 1061.79,895.5 1064.48,896.37 1067.17,897.23 1069.86,898.09 1072.55,898.95 1075.24,899.81 1077.93,900.67 1080.62,901.52 1083.31,902.37 1086,903.22 1088.69,904.06 1091.38,904.9 1094.07,905.74 1096.76,906.58 1099.45,907.41 1102.14,908.24 1104.83,909.07 1107.52,909.9 1110.21,910.72 1112.9,911.54 1115.59,912.36 1118.28,913.18 1120.97,913.99 1123.66,914.8 1126.35,915.61 1129.04,916.42 1131.73,917.22 1134.42,918.02 1137.11,918.82 1139.8,919.62 1142.49,920.42 1145.18,921.21 1147.87,922 1150.56,922.79 1153.25,923.57 1155.94,924.36 1158.63,925.14 1161.32,925.92 1164.01,926.69 1166.7,927.47 1169.39,928.24 1172.08,929.01 1174.77,929.78 1177.46,930.55 1180.15,931.31 1182.84,932.07 1185.53,932.83 1188.22,933.59 1190.91,934.35 1193.6,935.1 1196.29,935.85 1198.98,936.6 1201.67,937.35 1204.36,938.1 1207.05,938.84 1209.74,939.58 1212.43,940.32 1215.12,941.06 1217.81,941.8 1220.5,942.53 1223.19,943.26 1225.88,943.99 1228.57,944.72 1231.26,945.45 1233.95,946.17 1236.64,946.9 1239.33,947.62 1242.02,948.34 1244.71,949.06 1247.4,949.77 1250.09,950.49 1252.78,951.2 1255.47,951.91 1258.16,952.62 1260.85,953.33 1263.54,954.03 1266.23,954.74 1268.92,955.44 1271.61,956.14 1274.3,956.84 1276.99,957.53 1279.68,958.23 1282.37,958.92 1285.06,959.62 1287.75,960.31 1290.44,960.99 1293.13,961.68 1295.82,962.37 1298.51,963.05 1301.2,963.74 1303.89,964.42 1306.58,965.1 1309.27,965.77 1311.96,966.45 1314.65,967.13 1317.34,967.8 1320.03,968.47 1322.72,969.14 1325.41,969.81 1328.1,970.48 1330.79,971.15 1333.48,971.81 1336.17,972.48 1338.86,973.14 1341.55,973.8 1344.24,974.46 1346.93,975.12 1349.62,975.77 1352.31,976.43 1355,977.08 1357.69,977.74 1360.38,978.39 1363.07,979.04 1365.76,979.69 1368.45,980.33 1371.14,980.98 1373.83,981.63 1376.52,982.27 1379.21,982.91 1381.9,983.55 1384.59,984.19 1387.28,984.83 1389.97,985.47 1392.66,986.11 1395.35,986.74 1398.04,987.38 1400.73,988.01 1403.42,988.64 1406.11,989.27 1408.8,989.9 1411.49,990.53 1414.18,991.16 1416.87,991.78 1419.56,992.41 1422.25,993.03 1424.94,993.66 1427.63,994.28 1430.32,994.9 1433.01,995.52 1435.7,996.14 1438.39,996.75 1441.08,997.37 1443.77,997.99 1446.46,998.6 1449.15,999.21 1451.84,999.83 1454.53,1000.44 1457.22,1001.05 1459.91,1001.66 1462.6,1002.27 1465.29,1002.87 1467.98,1003.48 1470.67,1004.09 1473.36,1004.69 1476.05,1005.29 1478.74,1005.9 1481.43,1006.5 1484.12,1007.1 1486.81,1007.7 1489.5,1008.3" stroke="#00f"/>
<path d="M144.5,123.6 147.19,128.69 149.88,133.75 151.68,137.1M154.69,142.7 155.26,143.76 157.95,148.71 160.64,153.63 162.06,156.2M165.15,161.8 166.02,163.37 168.71,168.2 171.4,172.99 172.71,175.3M175.89,180.9 176.78,182.47 179.47,187.17 182.16,191.84 183.65,194.4M186.91,200 187.54,201.08 190.23,205.65 192.92,210.2 194.89,213.5M198.25,219.1 198.3,219.2 200.99,223.65 203.68,228.08 206.37,232.48 206.45,232.6M209.9,238.2 211.75,241.19 214.44,245.5 217.13,249.79 218.34,251.7M221.89,257.3 222.51,258.27 225.2,262.48 227.89,266.65 230.58,270.8 230.58,270.8M234.24,276.4 235.96,279.02 238.65,283.09 241.34,287.14 243.19,289.9M246.96,295.5 249.41,299.12 252.1,303.06 254.79,306.98 256.19,309M260.07,314.6 260.17,314.75 262.86,318.59 265.55,322.41 268.24,326.21 269.59,328.1M273.6,333.7 273.62,333.73 276.31,337.46 279,341.17 281.69,344.85 283.42,347.2M287.56,352.8 289.76,355.75 292.45,359.34 295.14,362.91 297.71,366.3M301.99,371.9 303.21,373.49 305.9,376.97 308.59,380.43 311.28,383.87 312.49,385.4M316.91,391 319.35,394.07 322.04,397.42 324.73,400.76 327.42,404.08 327.77,404.5M332.35,410.1 332.8,410.65 335.49,413.91 338.18,417.15 340.87,420.37 343.56,423.57 343.59,423.6M348.34,429.2 348.94,429.91 351.63,433.05 354.32,436.18 357.01,439.29 359.7,442.37 359.99,442.7M364.91,448.3 365.08,448.5 367.77,451.53 370.46,454.55 373.15,457.54 375.84,460.53 377,461.8M382.11,467.4 383.91,469.37 386.6,472.28 389.29,475.17 391.98,478.05 394.66,480.9M399.97,486.5 400.05,486.59 402.74,489.4 405.43,492.2 408.12,494.98 410.81,497.75 413.02,500M418.54,505.6 418.88,505.95 421.57,508.66 424.26,511.34 426.95,514.02 429.64,516.68 432.11,519.1M437.86,524.7 440.4,527.16 443.09,529.74 445.78,532.31 448.47,534.87 451.16,537.41 452,538.2M457.99,543.8 459.23,544.95 461.92,547.44 464.61,549.91 467.3,552.37 469.99,554.82 472.68,557.25 472.74,557.3M478.99,562.9 480.75,564.47 483.44,566.85 486.13,569.21 488.82,571.57 491.51,573.91 494.2,576.24 494.39,576.4M500.92,582 502.27,583.15 504.96,585.43 507.65,587.7 510.34,589.95 513.03,592.2 515.72,594.43 517.02,595.5M523.85,601.1 526.48,603.24 529.17,605.41 531.86,607.58 534.55,609.73 537.24,611.87 539.93,613.99 540.7,614.6M547.86,620.2 548,620.31 550.69,622.4 553.38,624.47 556.07,626.54 558.76,628.59 561.45,630.63 564.14,632.66 565.52,633.7M573.01,639.29 574.9,640.69 577.59,642.67 580.28,644.64 582.97,646.6 585.66,648.55 588.35,650.49 591.04,652.42 591.1,652.47M598.61,657.81 599.11,658.16 601.8,660.06 604.49,661.94 607.18,663.81 609.87,665.68 612.56,667.54 615.25,669.38 616.7,670.37M624.2,675.46 626.01,676.68 628.7,678.48 631.39,680.28 634.08,682.06 636.77,683.84 639.46,685.61 642.15,687.37 642.29,687.46M649.8,692.32 650.22,692.59 652.91,694.32 655.6,696.04 658.29,697.75 660.98,699.45 663.67,701.14 666.36,702.83 667.89,703.78M675.39,708.43 677.12,709.49 679.81,711.13 682.5,712.77 685.19,714.4 687.88,716.03 690.57,717.64 693.26,719.25 693.48,719.38M700.98,723.83 701.33,724.03 704.02,725.61 706.71,727.18 709.4,728.75 712.09,730.3 714.78,731.86 717.47,733.4 719.07,734.31M726.58,738.57 728.23,739.5 730.92,741.01 733.61,742.51 736.3,744.01 738.99,745.5 741.68,746.98 744.37,748.46 744.67,748.62M752.17,752.7 752.44,752.84 755.13,754.29 757.82,755.74 760.51,757.18 763.2,758.61 765.89,760.03 768.58,761.45 770.26,762.33M777.77,766.25 779.34,767.06 782.03,768.45 784.72,769.83 787.41,771.21 790.1,772.58 792.79,773.95 795.48,775.3 795.86,775.49M803.36,779.25 803.55,779.35 806.24,780.68 808.93,782.01 811.62,783.34 814.31,784.66 817,785.97 819.69,787.28 821.45,788.14M828.95,791.75 830.45,792.46 833.14,793.75 835.83,795.02 838.52,796.29 841.21,797.56 843.9,798.82 846.59,800.08 847.04,800.29M854.55,803.76 854.66,803.82 857.35,805.05 860.04,806.28 862.73,807.51 865.42,808.73 868.11,809.95 870.8,811.16 872.64,811.99M880.14,815.33 881.56,815.96 884.25,817.15 886.94,818.33 889.63,819.51 892.32,820.69 895.01,821.86 897.7,823.02 898.23,823.25M905.74,826.48 905.77,826.49 908.46,827.64 911.15,828.78 913.84,829.92 916.53,831.06 919.22,832.19 921.91,833.31 923.83,834.11M931.33,837.22 932.67,837.78 935.36,838.88 938.05,839.98 940.74,841.08 943.43,842.17 946.12,843.26 948.81,844.35 949.42,844.59M956.92,847.6 959.57,848.65 962.26,849.72 964.95,850.78 967.64,851.84 970.33,852.89 973.02,853.94 975.01,854.72M982.52,857.62 983.78,858.11 986.47,859.14 989.16,860.17 991.85,861.19 994.54,862.21 997.23,863.23 999.92,864.25 1000.61,864.51M1008.11,867.32 1010.68,868.27 1013.37,869.27 1016.06,870.26 1018.75,871.25 1021.44,872.24 1024.13,873.22 1026.2,873.98M1033.71,876.7 1034.89,877.13 1037.58,878.09 1040.27,879.06 1042.96,880.02 1045.65,880.98 1048.34,881.93 1051.03,882.88 1051.8,883.15M1059.3,885.79 1061.79,886.66 1064.48,887.6 1067.17,888.53 1069.86,889.46 1072.55,890.39 1075.24,891.31 1077.39,892.05M1084.89,894.61 1086,894.98 1088.69,895.89 1091.38,896.8 1094.07,897.71 1096.76,898.61 1099.45,899.51 1102.14,900.4 1102.98,900.68M1110.49,903.17 1112.9,903.96 1115.59,904.84 1118.28,905.73 1120.97,906.6 1123.66,907.48 1126.35,908.35 1128.58,909.07M1136.08,911.49 1137.11,911.81 1139.8,912.67 1142.49,913.53 1145.18,914.39 1147.87,915.24 1150.56,916.09 1153.25,916.94 1154.17,917.23M1161.68,919.58 1164.01,920.3 1166.7,921.14 1169.39,921.97 1172.08,922.8 1174.77,923.63 1177.46,924.46 1179.77,925.16M1187.27,927.45 1188.22,927.74 1190.91,928.55 1193.6,929.37 1196.29,930.18 1198.98,930.99 1201.67,931.79 1204.36,932.6 1205.36,932.9M1212.86,935.13 1215.12,935.79 1217.81,936.59 1220.5,937.38 1223.19,938.17 1225.88,938.96 1228.57,939.74 1230.95,940.44M1238.46,942.61 1239.33,942.87 1242.02,943.64 1244.71,944.42 1247.4,945.19 1250.09,945.96 1252.78,946.73 1255.47,947.49 1256.55,947.8M1264.05,949.92 1266.23,950.54 1268.92,951.3 1271.61,952.05 1274.3,952.8 1276.99,953.56 1279.68,954.31 1282.14,954.99M1289.65,957.07 1290.44,957.29 1293.13,958.03 1295.82,958.77 1298.51,959.51 1301.2,960.24 1303.89,960.98 1306.58,961.71 1307.74,962.03M1315.24,964.06 1317.34,964.63 1320.03,965.35 1322.72,966.08 1325.41,966.8 1328.1,967.52 1330.79,968.24 1333.33,968.91M1340.83,970.91 1341.55,971.1 1344.24,971.81 1346.93,972.52 1349.62,973.23 1352.31,973.93 1355,974.64 1357.69,975.34 1358.92,975.66M1366.43,977.62 1368.45,978.14 1371.14,978.84 1373.83,979.54 1376.52,980.23 1379.21,980.92 1381.9,981.62 1384.52,982.29M1392.02,984.21 1392.66,984.37 1395.35,985.05 1398.04,985.74 1400.73,986.42 1403.42,987.1 1406.11,987.78 1408.8,988.46 1410.11,988.79M1417.62,990.68 1419.56,991.16 1422.25,991.84 1424.94,992.51 1427.63,993.18 1430.32,993.85 1433.01,994.52 1435.7,995.18 1435.71,995.18M1443.21,997.04 1443.77,997.18 1446.46,997.84 1449.15,998.5 1451.84,999.16 1454.53,999.82 1457.22,1000.48 1459.91,1001.14 1461.3,1001.48M1468.8,1003.3 1470.67,1003.76 1473.36,1004.41 1476.05,1005.06 1478.74,1005.71 1481.43,1006.36 1484.12,1007.01 1486.81,1007.65 1486.89,1007.67" stroke="#00f"/>
</g>
<path d="M144.5,809.8h14M1489.5,809.8h-15.5M144.5,611.4h14M1489.5,611.4h-15.5M144.5,413.0h14M1489.5,413.0h-15.5M144.5,214.5h14M1489.5,214.5h-15.5M413.5,1008.3v-11M413.5,17.1v10M682.5,1008.3v-11M682.5,17.1v10M951.5,1008.3v-11M951.5,17.1v10M1220.5,1008.3v-11M1220.5,17.1v10" stroke="#000" stroke-width="1.7" fill="none"/>
<rect x="144.5" y="17.1" width="1345.0" height="991.1999999999999" fill="none" stroke="#000" stroke-width="1.8"/>
<g fill="#000">
<text font-family="Liberation Sans" font-weight="bold"  font-size="100"  transform="translate(70.70,28.43) scale(0.4573,0.3689)">2.5</text>
<text font-family="Liberation Sans" font-weight="bold"  font-size="100"  transform="translate(108.87,225.80) scale(0.4667,0.3756)">2</text>
<text font-family="Liberation Sans" font-weight="bold"  font-size="100"  transform="translate(71.17,424.52) scale(0.4531,0.3828)">1.5</text>
<text font-family="Liberation Sans" font-weight="bold"  font-size="100"  transform="translate(70.46,821.33) scale(0.4590,0.3703)">0.5</text>
<text font-family="Liberation Sans" font-weight="bold"  font-size="100"  transform="translate(109.07,1019.63) scale(0.4568,0.3675)">0</text>
<text font-family="Liberation Sans" font-weight="bold"  font-size="100"  transform="translate(130.75,1045.73) scale(0.4632,0.3689)">0</text>
<text font-family="Liberation Sans" font-weight="bold"  font-size="100"  transform="translate(381.66,1045.73) scale(0.4595,0.3689)">0.2</text>
<text font-family="Liberation Sans" font-weight="bold"  font-size="100"  transform="translate(650.50,1045.73) scale(0.4491,0.3703)">0.4</text>
<text font-family="Liberation Sans" font-weight="bold"  font-size="100"  transform="translate(919.46,1045.73) scale(0.4593,0.3703)">0.6</text>
<text font-family="Liberation Sans" font-weight="bold"  font-size="100"  transform="translate(1188.47,1045.73) scale(0.4576,0.3703)">0.8</text>
<text font-family="Liberation Sans" font-size="100" letter-spacing="7.73" stroke="#000" stroke-width="4.94" stroke-linejoin="round" transform="translate(1212.19,110.64) scale(0.3800,0.3116)">Yamada Ota</text>
<text font-family="Liberation Sans" font-size="100" letter-spacing="11.48" stroke="#000" stroke-width="4.94" stroke-linejoin="round" transform="translate(1213.89,146.74) scale(0.3800,0.3111)">Xue</text>
<text font-family="Liberation Serif" font-weight="bold" font-size="100"  transform="translate(493.03,351.71) scale(0.3895,0.2917)">ε</text>
<text font-family="Liberation Sans" font-size="100" letter-spacing="3.87" stroke="#000" stroke-width="4.97" stroke-linejoin="round" transform="translate(540.18,351.04) scale(0.3750,0.3124)">= 0.3, 0.5, 0.7</text>
<text font-family="Liberation Serif"  font-size="100" stroke="#000" stroke-width="3.35" stroke-linejoin="round" transform="translate(797.96,1087.92) scale(0.5297,0.3780)">η</text>
<text font-family="Liberation Serif"  font-size="100" stroke="#000" stroke-width="1.63" stroke-linejoin="round" transform="translate(46.40,560.59) rotate(-90) scale(0.4821,0.5014)">θ</text>
<text font-family="Liberation Serif"  font-size="100" stroke="#000" stroke-width="1.62" stroke-linejoin="round" transform="translate(44.02,523.11) rotate(-90) scale(0.4235,0.5779)">(</text>
<text font-family="Liberation Serif"  font-size="100" stroke="#000" stroke-width="1.79" stroke-linejoin="round" transform="translate(46.72,507.27) rotate(-90) scale(0.3824,0.5216)">η</text>
<text font-family="Liberation Serif"  font-size="100" stroke="#000" stroke-width="1.68" stroke-linejoin="round" transform="translate(44.02,483.27) rotate(-90) scale(0.3922,0.5779)">)</text>
<path d="M12,0 L16.8,0 L16.8,26 L9.6,26 L9.6,8.1 Q5,11.5 0.4,12.3 L0,6.9 Q7,4.5 12,0 Z" transform="translate(112.30,596.90) scale(1.0000,1.0000)"/>
<path d="M12,0 L16.8,0 L16.8,26 L9.6,26 L9.6,8.1 Q5,11.5 0.4,12.3 L0,6.9 Q7,4.5 12,0 Z" transform="translate(1479.30,1020.20) scale(1.0060,0.9923)"/>
<path d="M12,0 L16.8,0 L16.8,26 L9.6,26 L9.6,8.1 Q5,11.5 0.4,12.3 L0,6.9 Q7,4.5 12,0 Z" transform="translate(512.30,349.10) scale(0.6905,0.6808)"/>
</g>
<path d="M1041.3,95H1056M1070,95H1099.4M1114.1,95H1139.5M1154.2,95H1174.2M1054,140.5H1185" stroke="#000" stroke-width="4.7" fill="none"/>
<path d="M344.5,609.8L474,493" stroke="#000" stroke-width="3.6" fill="none"/>
<path d="M489.6,475.2L461.6,488.6L463.5,492.6L471.8,492.1L475.5,494.8L476.5,501L482.7,501L494.4,479.2Z" fill="#000" stroke="#000" stroke-width="0.6" stroke-linejoin="round"/>
</svg>
</body></html>
